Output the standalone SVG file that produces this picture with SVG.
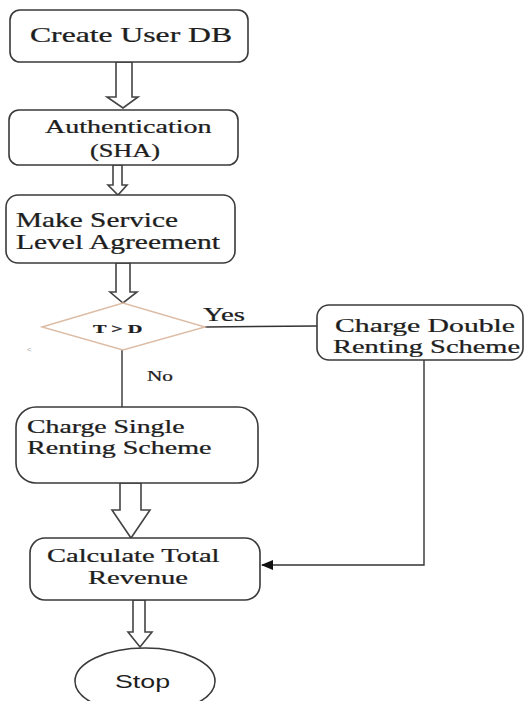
<svg xmlns="http://www.w3.org/2000/svg" width="529" height="701" viewBox="0 0 529 701">
<defs>
<style>
.box{fill:#fff;stroke:#3a3a3a;stroke-width:1.6}
.blk{fill:#fff;stroke:#444;stroke-width:1.6;stroke-linejoin:miter}
.t{font-family:"Liberation Serif","Times New Roman",serif;fill:#1e1e1e;stroke:#1e1e1e;stroke-width:0.25}
.s{font-family:"Liberation Sans",Arial,sans-serif;fill:#1e1e1e}
.ln{fill:none;stroke:#333;stroke-width:1.4}
</style>
<marker id="ah" viewBox="0 0 12 10" refX="11" refY="5" markerWidth="12" markerHeight="10" markerUnits="userSpaceOnUse" orient="auto">
<path d="M0,0 L12,5 L0,10 Z" fill="#111"/>
</marker>
</defs>
<rect width="529" height="701" fill="#fff"/>

<g id="connectors">
<polygon class="blk" points="116,62 132,62 132,97 138,97 123,108 107,97 116,97"/>
<polygon class="blk" points="113,165 122,165 122,185 127,185 118,195 108,185 113,185"/>
<polygon class="blk" points="116,263 130,263 130,292 137,292 123,303 110,292 116,292"/>
<polygon class="blk" points="120,483 141,483 141,510 150,510 131,538 112,510 120,510"/>
<polygon class="blk" points="133,600 145,600 145,632 152,632 140,647 128,632 133,632"/>
<line class="ln" x1="205" y1="327" x2="317" y2="326"/>
<line class="ln" x1="122" y1="350" x2="122" y2="407"/>
<polyline class="ln" points="424,360 424,565 262,565" marker-end="url(#ah)"/>
<text class="t" transform="translate(203,321) scale(1.5,1)" font-size="18" textLength="28" lengthAdjust="spacingAndGlyphs">Yes</text>
<text class="t" transform="translate(147,381) scale(1.5,1)" font-size="15" textLength="17.3" lengthAdjust="spacingAndGlyphs">No</text>
</g>

<g id="create-user-db">
<rect class="box" x="10" y="10" width="238" height="52" rx="10"/>
<text class="t" transform="translate(30,42) scale(1.5,1)" font-size="20" textLength="134.7" lengthAdjust="spacingAndGlyphs">Create User DB</text>
</g>

<g id="authentication">
<rect class="box" x="9" y="110" width="229" height="55" rx="10"/>
<text class="t" transform="translate(45,133) scale(1.5,1)" font-size="18.5" textLength="111" lengthAdjust="spacingAndGlyphs">Authentication</text>
<text class="t" transform="translate(90,157) scale(1.5,1)" font-size="18" textLength="46.7" lengthAdjust="spacingAndGlyphs">(SHA)</text>
</g>

<g id="sla">
<rect class="box" x="6" y="195" width="229" height="68" rx="12"/>
<text class="t" transform="translate(16,227) scale(1.5,1)" font-size="20" textLength="108" lengthAdjust="spacingAndGlyphs">Make Service</text>
<text class="t" transform="translate(16,249) scale(1.5,1)" font-size="20" textLength="136" lengthAdjust="spacingAndGlyphs">Level Agreement</text>
</g>

<g id="decision">
<polygon points="42,327 123,303 205,327 123,350" fill="#fff" stroke="#dcbca4" stroke-width="1.4"/>
<text class="t" transform="translate(93,333) scale(1.5,1)" font-size="13" font-weight="bold" textLength="33" lengthAdjust="spacingAndGlyphs">T &gt; D</text>
<text class="s" x="27" y="352" font-size="8" style="fill:#aaa">&lt;</text>
</g>

<g id="charge-double">
<rect class="box" x="317" y="305" width="206" height="55" rx="12"/>
<text class="t" transform="translate(335,332) scale(1.5,1)" font-size="19" textLength="120" lengthAdjust="spacingAndGlyphs">Charge Double</text>
<text class="t" transform="translate(333,353) scale(1.5,1)" font-size="19" textLength="124.7" lengthAdjust="spacingAndGlyphs">Renting Scheme</text>
</g>

<g id="charge-single">
<rect class="box" x="16" y="407" width="242" height="76" rx="20"/>
<text class="t" transform="translate(27,433) scale(1.5,1)" font-size="18" textLength="105" lengthAdjust="spacingAndGlyphs">Charge Single</text>
<text class="t" transform="translate(27,454) scale(1.5,1)" font-size="18" textLength="123" lengthAdjust="spacingAndGlyphs">Renting Scheme</text>
</g>

<g id="calculate-revenue">
<rect class="box" x="30" y="538" width="230" height="62" rx="15"/>
<text class="t" transform="translate(47,562) scale(1.5,1)" font-size="18.5" textLength="115" lengthAdjust="spacingAndGlyphs">Calculate Total</text>
<text class="t" transform="translate(88,584) scale(1.5,1)" font-size="18.5" textLength="66.7" lengthAdjust="spacingAndGlyphs">Revenue</text>
</g>

<g id="stop">
<ellipse class="box" cx="145" cy="681" rx="70" ry="33"/>
<text class="s" transform="translate(115,688) scale(1.5,1)" font-size="18" textLength="36.7" lengthAdjust="spacingAndGlyphs">Stop</text>
</g>
</svg>
